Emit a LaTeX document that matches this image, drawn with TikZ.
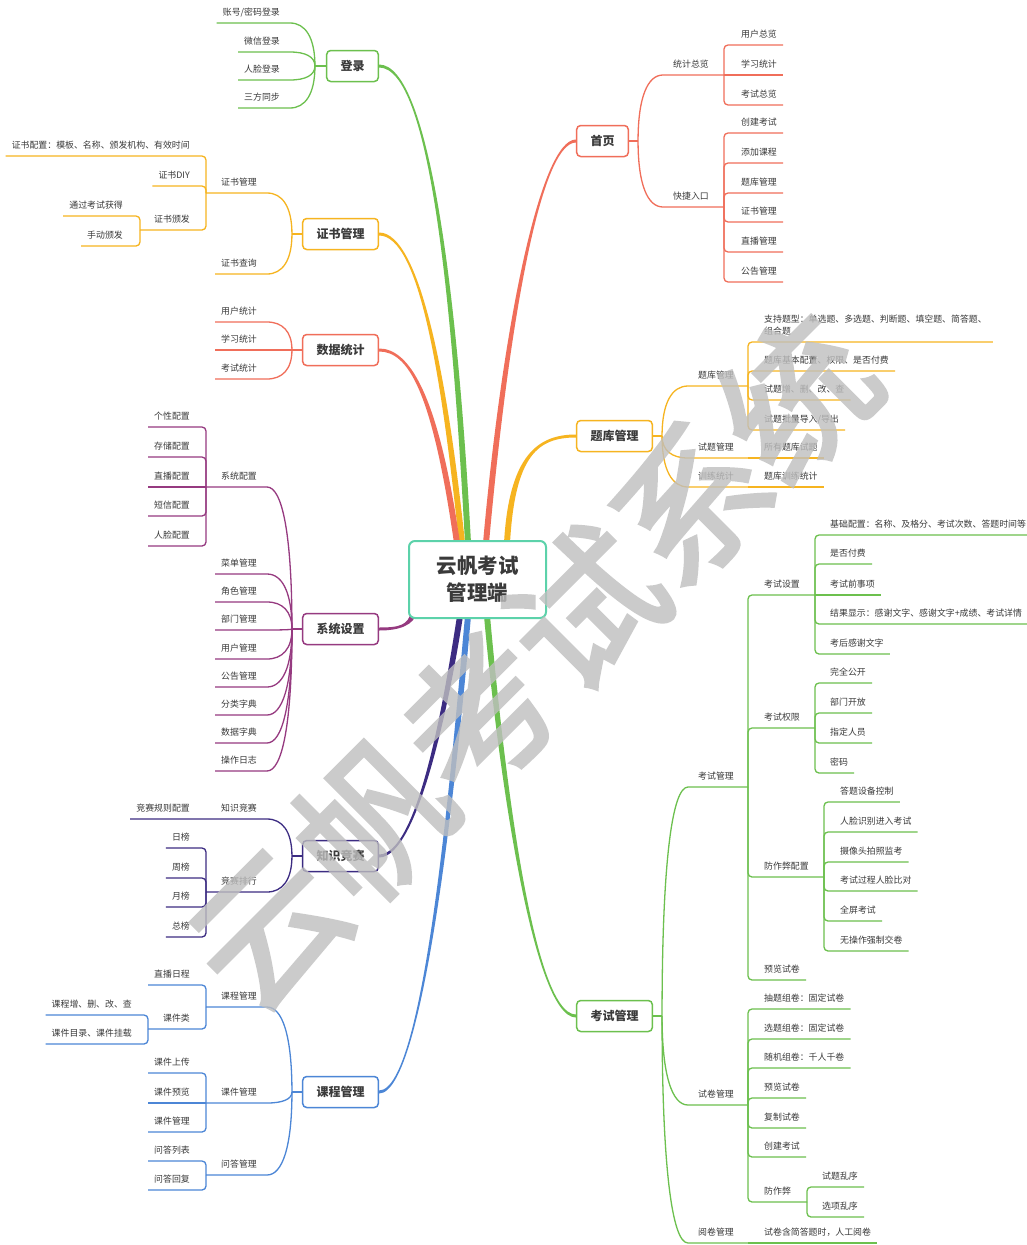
\documentclass[tikz,border=0pt]{standalone}
\usepackage{fontspec}
\setmainfont{Noto Sans CJK SC}
\newfontfamily\markfont[FakeBold=2.5]{Noto Sans CJK SC}
\usetikzlibrary{calc,backgrounds}

\definecolor{ink}{RGB}{58,58,58}
\definecolor{cgreen}{RGB}{108,192,78}
\definecolor{corange}{RGB}{246,180,32}
\definecolor{cred}{RGB}{240,110,90}
\definecolor{cpurple}{RGB}{150,58,128}
\definecolor{cindigo}{RGB}{60,44,130}
\definecolor{cblue}{RGB}{76,134,214}
\definecolor{cteal}{RGB}{92,210,170}

% thick tapered branch: colour, from, control 1, control 2, to, side (+1/-1)
\newcommand{\trunk}[6]{%
  \fill[#1] let \p1=(#2), \p2=(#3), \p3=(#4), \p4=(#5) in
    (\x1,{\y1+1.5pt}) .. controls (\x2,{\y2+1.5pt}) and ({\x3+(#6)*3pt},\y3) .. ({\x4+(#6)*3pt},\y4)
    -- ({\x4-(#6)*3pt},\y4) .. controls ({\x3-(#6)*3pt},\y3) and (\x2,{\y2-1.5pt}) .. (\x1,{\y1-1.5pt}) -- cycle;}

\begin{document}
\begin{tikzpicture}[x=1pt, y=-1pt,
    leaf/.style={font=\fontsize{8.9}{12}\selectfont, text=ink, inner xsep=6pt, inner ysep=6.6pt,
      text height=7pt, text depth=1pt},
    leafL/.style={leaf, anchor=south east},
    leafR/.style={leaf, anchor=south west},
    topic/.style={draw=#1, fill=white, line width=1.5pt, rounded corners=4pt, text=ink,
      font=\bfseries\fontsize{12}{14}\selectfont, inner xsep=13.8pt, minimum height=31pt,
      text height=9.2pt, text depth=0pt},
    root/.style={draw=cteal, fill=white, line width=2pt, rounded corners=6pt, text=ink, align=center,
      font=\bfseries\fontsize{20.5}{27}\selectfont, minimum width=137pt, minimum height=77pt},
    kid/.style={draw=#1, line width=1.3pt, rounded corners=4pt},
    elbow/.style={to path={.. controls ($(\tikztostart)!2/3!(\tikztostart|-\tikztotarget)$)
      and ($(\tikztotarget)!2/3!(\tikztostart|-\tikztotarget)$) .. (\tikztotarget)}}
  ]
  \useasboundingbox (0,0) rectangle (1027,1245);

  % Centre
  \node[root] (root) at (477.5,579.5) {云帆考试\\管理端};

  % Main topics
  \node[topic=cgreen] (login) at (352.5,66) {登录};
  \node[topic=corange] (cert) at (340.5,234) {证书管理};
  \node[topic=cred] (stats) at (340.5,350) {数据统计};
  \node[topic=cpurple] (sys) at (340.5,629) {系统设置};
  \node[topic=cindigo] (quiz) at (340.5,856) {知识竞赛};
  \node[topic=cblue] (course) at (340.5,1092) {课程管理};
  \node[topic=cred] (home) at (602.5,141) {首页};
  \node[topic=corange] (bank) at (614.5,436) {题库管理};
  \node[topic=cgreen] (exam) at (614.5,1016) {考试管理};

  % Where the branches meet the centre
  \coordinate (rstats) at ($(root.north west)+(49,3)$);
  \coordinate (rcert) at ($(root.north west)+(54,3)$);
  \coordinate (rlogin) at ($(root.north west)+(60,3)$);
  \coordinate (rhome) at ($(root.north west)+(78,3)$);
  \coordinate (rbank) at ($(root.north west)+(99,3)$);
  \coordinate (rsys) at ($(root.south west)+(6,-7)$);
  \coordinate (rquiz) at ($(root.south west)+(52,-3)$);
  \coordinate (rcourse) at ($(root.south west)+(60,-3)$);
  \coordinate (rexam) at ($(root.south west)+(79,-3)$);

  % Junctions next to the main topics
  \coordinate (jlogin) at ($(login.west)+(-11,0)$);
  \foreach \m in {cert,stats,sys,quiz,course}
    \coordinate (j\m) at ($(\m.west)+(-10,0)$);
  \foreach \m in {home,bank,exam}
    \coordinate (j\m) at ($(\m.east)+(9,0)$);

  % 登录
  \node[leafL] (dl1) at (286,23) {账号/密码登录};
  \foreach \n/\y/\lbl in {2/52/微信登录, 3/80/人脸登录, 4/108/三方同步}
    \node[leafL] (dl\n) at (286,\y) {\lbl};

  % 证书管理
  \node[leafL] (zs1) at (263,193) {证书管理};
  \node[leafL] (zs2) at (263,274) {证书查询};
  \coordinate (jzs1) at (206,193);
  \node[leafL] (zs11) at (196,156) {证书配置：模板、名称、颁发机构、有效时间};
  \node[leafL] (zs12) at (196,186) {证书DIY};
  \node[leafL] (zs13) at (196,230) {证书颁发};
  \coordinate (jzs13) at (140,230);
  \node[leafL] (zs131) at (129,216) {通过考试获得};
  \node[leafL] (zs132) at (129,246) {手动颁发};

  % 数据统计
  \foreach \n/\y/\lbl in {1/322/用户统计, 2/350/学习统计, 3/379/考试统计}
    \node[leafL] (sj\n) at (263,\y) {\lbl};

  % 系统设置
  \node[leafL] (xt0) at (263,487) {系统配置};
  \coordinate (jxt0) at (206,487);
  \foreach \n/\y/\lbl in {1/427/个性配置, 2/457/存储配置, 3/487/直播配置, 4/516/短信配置, 5/546/人脸配置}
    \node[leafL] (xtc\n) at (196,\y) {\lbl};
  \foreach \n/\y/\lbl in {1/574/菜单管理, 2/602/角色管理, 3/630/部门管理, 4/659/用户管理,
      5/687/公告管理, 6/715/分类字典, 7/743/数据字典, 8/771/操作日志}
    \node[leafL] (xt\n) at (263,\y) {\lbl};

  % 知识竞赛
  \node[leafL] (zh1) at (263,819) {知识竞赛};
  \node[leafL] (zh2) at (263,892) {竞赛排行};
  \coordinate (jzh1) at (206,819);
  \coordinate (jzh2) at (206,892);
  \node[leafL] (zh11) at (196,819) {竞赛规则配置};
  \foreach \n/\y/\lbl in {1/848/日榜, 2/878/周榜, 3/907/月榜, 4/937/总榜}
    \node[leafL] (zh2\n) at (196,\y) {\lbl};

  % 课程管理
  \node[leafL] (kc1) at (263,1007) {课程管理};
  \node[leafL] (kc2) at (263,1103) {课件管理};
  \node[leafL] (kc3) at (263,1175) {问答管理};
  \foreach \n in {1,2,3}
    \coordinate (jkc\n) at (kc\n.south west -| 206,0);
  \node[leafL] (kc11) at (196,985) {直播日程};
  \node[leafL] (kc12) at (196,1029) {课件类};
  \coordinate (jkc12) at (148,1029);
  \node[leafL] (kc121) at (138,1015) {课程增、删、改、查};
  \node[leafL] (kc122) at (138,1044) {课件目录、课件挂载};
  \foreach \n/\y/\lbl in {1/1073/课件上传, 2/1103/课件预览, 3/1132/课件管理}
    \node[leafL] (kc2\n) at (196,\y) {\lbl};
  \foreach \n/\y/\lbl in {1/1161/问答列表, 2/1190/问答回复}
    \node[leafL] (kc3\n) at (196,\y) {\lbl};

  % 首页
  \node[leafR] (sy1) at (667,75) {统计总览};
  \node[leafR] (sy2) at (667,207) {快捷入口};
  \coordinate (jsy1) at (724,75);
  \coordinate (jsy2) at (724,207);
  \foreach \n/\y/\lbl in {1/45/用户总览, 2/75/学习统计, 3/105/考试总览}
    \node[leafR] (sy1\n) at (735,\y) {\lbl};
  \foreach \n/\y/\lbl in {1/133/创建考试, 2/163/添加课程, 3/193/题库管理, 4/222/证书管理,
      5/252/直播管理, 6/282/公告管理}
    \node[leafR] (sy2\n) at (735,\y) {\lbl};

  % 题库管理
  \node[leafR] (tk1) at (692,386) {题库管理};
  \node[leafR] (tk2) at (692,458) {试题管理};
  \node[leafR] (tk3) at (692,487) {训练统计};
  \foreach \n in {1,2,3}
    \coordinate (jtk\n) at (tk\n.south west -| 748,0);
  \node[leafR, align=left] (tk11) at (758,342) {支持题型：单选题、多选题、判断题、填空题、简答题、\\组合题};
  \node[leafR] (tk12) at (758,371) {题库基本配置、权限、是否付费};
  \node[leafR] (tk13) at (758,400) {试题增、删、改、查};
  \node[leafR] (tk14) at (758,430) {试题批量导入/导出};
  \node[leafR] (tk21) at (758,458) {所有题库试题};
  \node[leafR] (tk31) at (758,487) {题库训练统计};

  % 考试管理
  \node[leafR] (ks1) at (692,787) {考试管理};
  \node[leafR] (ks2) at (692,1105) {试卷管理};
  \node[leafR] (ks3) at (692,1243) {阅卷管理};
  \foreach \n in {1,2,3}
    \coordinate (jks\n) at (ks\n.south west -| 748,0);
  \node[leafR] (ks11) at (758,595) {考试设置};
  \node[leafR] (ks12) at (758,728) {考试权限};
  \node[leafR] (ks13) at (758,877) {防作弊配置};
  \node[leafR] (ks14) at (758,980) {预览试卷};
  \coordinate (jks11) at (815,595);
  \coordinate (jks12) at (815,728);
  \coordinate (jks13) at (824,877);
  \foreach \n/\y/\lbl in {1/535/基础配置：名称、及格分、考试次数、答题时间等, 2/564/是否付费, 3/595/考试前事项,
      4/624/结果显示：感谢文字、感谢文字+成绩、考试详情, 5/654/考后感谢文字}
    \node[leafR] (ks11\n) at (824,\y) {\lbl};
  \foreach \n/\y/\lbl in {1/683/完全公开, 2/713/部门开放, 3/743/指定人员, 4/773/密码}
    \node[leafR] (ks12\n) at (824,\y) {\lbl};
  \foreach \n/\y/\lbl in {1/802/答题设备控制, 2/832/人脸识别进入考试, 3/862/摄像头拍照监考,
      4/891/考试过程人脸比对, 5/921/全屏考试, 6/951/无操作强制交卷}
    \node[leafR] (ks13\n) at (834,\y) {\lbl};
  \foreach \n/\y/\lbl in {1/1009/抽题组卷：固定试卷, 2/1039/选题组卷：固定试卷, 3/1068/随机组卷：千人千卷,
      4/1098/预览试卷, 5/1128/复制试卷, 6/1157/创建考试, 7/1202/防作弊}
    \node[leafR] (ks2\n) at (758,\y) {\lbl};
  \coordinate (jks27) at (807,1202);
  \node[leafR] (ks271) at (816,1187) {试题乱序};
  \node[leafR] (ks272) at (816,1217) {选项乱序};
  \node[leafR] (ks31) at (758,1243) {试卷含简答题时，人工阅卷};

  \begin{scope}[on background layer]
    \fill[white] (0,0) rectangle (1027,1245);

    % Thick branches from the centre
    \trunk{cgreen}{login.east}{430,66}{455,300}{rlogin}{1}
    \trunk{corange}{cert.east}{420,234}{445,380}{rcert}{1}
    \trunk{cred}{stats.east}{408,350}{435,390}{rstats}{1}
    \trunk{cred}{home.west}{540,141}{505,330}{rhome}{-1}
    \trunk{corange}{bank.west}{538,436}{512,455}{rbank}{-1}
    \trunk{cpurple}{sys.east}{400,629}{411,625}{rsys}{-1}
    \trunk{cindigo}{quiz.east}{418,856}{447,700}{rquiz}{-1}
    \trunk{cblue}{course.east}{425,1092}{455,760}{rcourse}{-1}
    \trunk{cgreen}{exam.west}{532,1016}{500,760}{rexam}{1}

    % Stubs from the main topics
    \foreach \m/\c in {login/cgreen, cert/corange, stats/cred, sys/cpurple, quiz/cindigo, course/cblue}
      \draw[kid=\c] (\m.west) -- (j\m);
    \foreach \m/\c in {home/cred, bank/corange, exam/cgreen}
      \draw[kid=\c] (\m.east) -- (j\m);

    % 登录
    \foreach \n in {1,...,4}
      \draw[kid=cgreen] (jlogin) to[elbow] (dl\n.south east) -- (dl\n.south west);

    % 证书管理
    \draw[kid=corange] (jcert) to[elbow] (zs1.south east) -- (jzs1);
    \draw[kid=corange] (jcert) to[elbow] (zs2.south east) -- (zs2.south west);
    \foreach \n in {1,2}
      \draw[kid=corange] (jzs1) |- (zs1\n.south west);
    \draw[kid=corange] (jzs1) |- (zs13.south east) -- (jzs13);
    \foreach \n in {1,2}
      \draw[kid=corange] (jzs13) |- (zs13\n.south west);

    % 数据统计
    \foreach \n in {1,2,3}
      \draw[kid=cred] (jstats) to[elbow] (sj\n.south east) -- (sj\n.south west);

    % 系统设置
    \draw[kid=cpurple] (jsys) to[elbow] (xt0.south east) -- (jxt0);
    \foreach \n in {1,2,4,5}
      \draw[kid=cpurple] (jxt0) |- (xtc\n.south west);
    \draw[kid=cpurple] (jxt0) -- (xtc3.south west);
    \foreach \n in {1,...,8}
      \draw[kid=cpurple] (jsys) to[elbow] (xt\n.south east) -- (xt\n.south west);

    % 知识竞赛
    \draw[kid=cindigo] (jquiz) to[elbow] (zh1.south east) -- (zh11.south west);
    \draw[kid=cindigo] (jquiz) to[elbow] (zh2.south east) -- (jzh2);
    \foreach \n in {1,...,4}
      \draw[kid=cindigo] (jzh2) |- (zh2\n.south west);

    % 课程管理
    \foreach \n in {1,2,3}
      \draw[kid=cblue] (jcourse) to[elbow] (kc\n.south east) -- (jkc\n);
    \draw[kid=cblue] (jkc1) |- (kc11.south west);
    \draw[kid=cblue] (jkc1) |- (kc12.south east) -- (jkc12);
    \foreach \n in {1,2}
      \draw[kid=cblue] (jkc12) |- (kc12\n.south west);
    \foreach \n in {1,3}
      \draw[kid=cblue] (jkc2) |- (kc2\n.south west);
    \draw[kid=cblue] (jkc2) -- (kc22.south west);
    \foreach \n in {1,2}
      \draw[kid=cblue] (jkc3) |- (kc3\n.south west);

    % 首页
    \foreach \n in {1,2}
      \draw[kid=cred] (jhome) to[elbow] (sy\n.south west) -- (jsy\n);
    \foreach \n in {1,3}
      \draw[kid=cred] (jsy1) |- (sy1\n.south east);
    \draw[kid=cred] (jsy1) -- (sy12.south east);
    \foreach \n in {1,...,6}
      \draw[kid=cred] (jsy2) |- (sy2\n.south east);

    % 题库管理
    \foreach \n in {1,2,3}
      \draw[kid=corange] (jbank) to[elbow] (tk\n.south west) -- (jtk\n);
    \foreach \n in {1,...,4}
      \draw[kid=corange] (jtk1) |- (tk1\n.south east);
    \draw[kid=corange] (jtk2) -- (tk21.south east);
    \draw[kid=corange] (jtk3) -- (tk31.south east);

    % 考试管理
    \foreach \n in {1,2,3}
      \draw[kid=cgreen] (jexam) to[elbow] (ks\n.south west) -- (jks\n);
    \foreach \n in {1,2,3}
      \draw[kid=cgreen] (jks1) |- (ks1\n.south east) -- (jks1\n);
    \draw[kid=cgreen] (jks1) |- (ks14.south east);
    \foreach \n in {1,2,4,5}
      \draw[kid=cgreen] (jks11) |- (ks11\n.south east);
    \draw[kid=cgreen] (jks11) -- (ks113.south east);
    \foreach \n in {1,...,4}
      \draw[kid=cgreen] (jks12) |- (ks12\n.south east);
    \foreach \n in {1,...,6}
      \draw[kid=cgreen] (jks13) |- (ks13\n.south east);
    \foreach \n in {1,...,6}
      \draw[kid=cgreen] (jks2) |- (ks2\n.south east);
    \draw[kid=cgreen] (jks2) |- (ks27.south east) -- (jks27);
    \foreach \n in {1,2}
      \draw[kid=cgreen] (jks27) |- (ks27\n.south east);
    \draw[kid=cgreen] (jks3) -- (ks31.south east);
  \end{scope}

  % Watermark
  \begin{scope}[transparency group, opacity=0.8]
    \node[rotate=45, text=black!25, font=\markfont\fontsize{150}{150}\selectfont]
      (mark) at (532,662) {云帆考试系统};
  \end{scope}
\end{tikzpicture}
\end{document}
